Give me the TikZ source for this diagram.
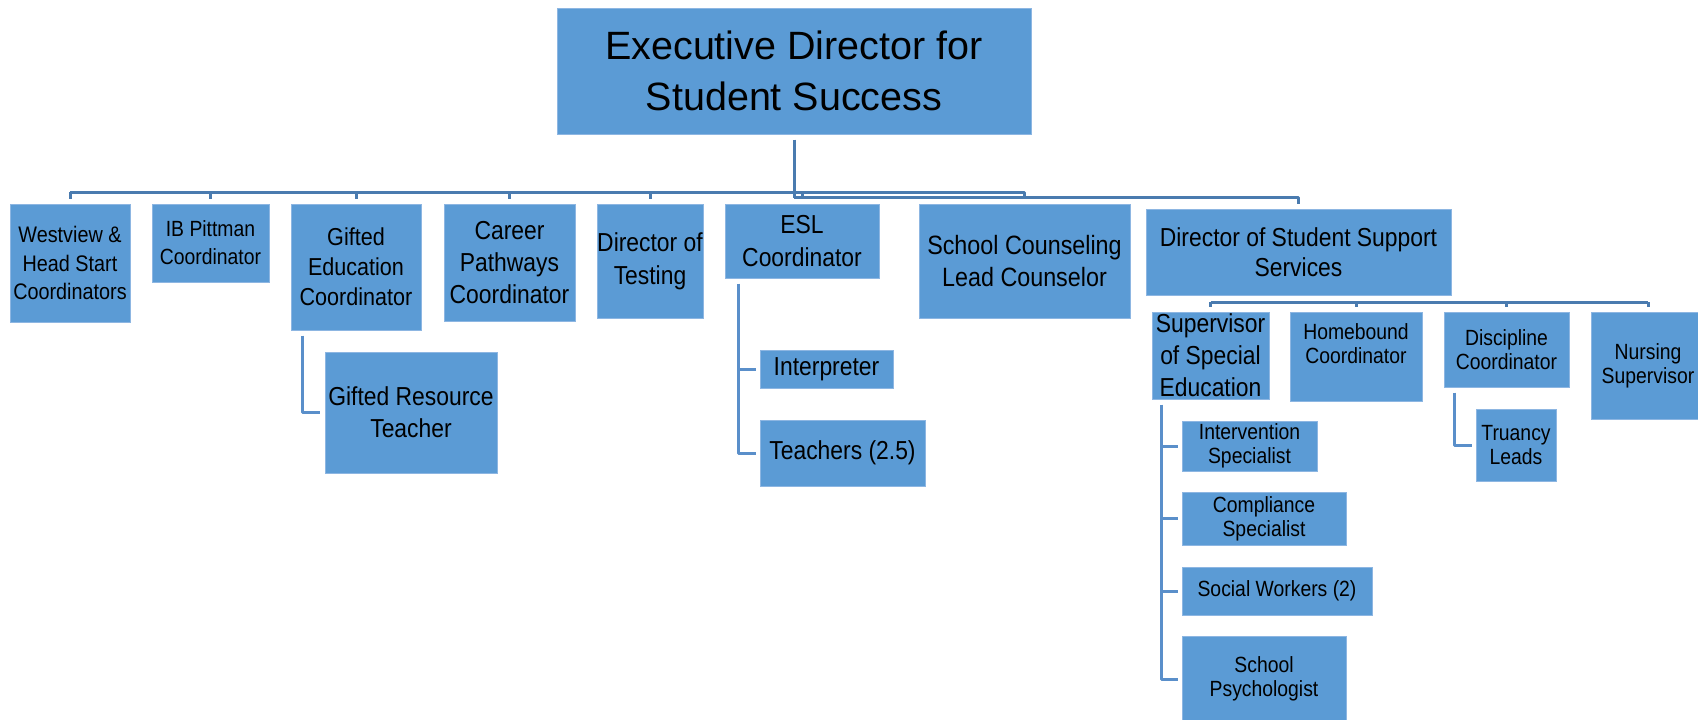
\documentclass[tikz,border=0pt]{standalone}
\usepackage{fontspec}
\setmainfont{Liberation Sans}[FakeStretch=0.88]
\newfontfamily\widefont{Liberation Sans}
\usetikzlibrary{calc}
\definecolor{boxblue}{HTML}{5B9BD5}
\definecolor{boxedge}{HTML}{8DB6E2}
\definecolor{busline}{HTML}{4A7BAF}
\definecolor{sideline}{HTML}{5A8FCA}
\newcommand{\fs}[2]{\fontsize{#1}{#2}\selectfont}
\tikzset{
  box/.style={fill=boxblue, draw=boxedge, line width=1pt, inner sep=0pt,
              align=center, text=black},
  txt/.style={inner sep=0pt, align=center, text=black},
  conn/.style={draw=busline, line width=3pt, line join=round},
  side/.style={draw=sideline, line width=3pt, line join=round},
}
\begin{document}
\begin{tikzpicture}[x=1pt,y=-1pt]
\useasboundingbox (0,0) rectangle (1698,720);
\fill[white] (0,0) rectangle (1698,720);

% top
\node[box, minimum width=474, minimum height=126, font=\widefont\fs{39.5}{51}]
  (exec) at (794,71) {Executive Director for\\Student Success};

% first level
\node[box, minimum width=120, minimum height=118, font=\fs{22.5}{28.5}]
  (wv) at (70,263) {Westview \&\\Head Start\\Coordinators};
\node[box, minimum width=117, minimum height=78, font=\fs{22}{28}]
  (ib) at (210.5,243) {IB Pittman\\Coordinator};
\node[box, minimum width=130, minimum height=126, font=\fs{24.5}{30}]
  (gifted) at (356,267) {Gifted\\Education\\Coordinator};
\node[box, minimum width=131, minimum height=117, font=\fs{26}{32}]
  (career) at (509.5,262.5) {Career\\Pathways\\Coordinator};
\node[box, minimum width=106, minimum height=114, font=\fs{26}{33}]
  (testing) at (650,261) {Director of\\Testing};
\node[box, minimum width=154, minimum height=74, font=\fs{26}{33}]
  (esl) at (802,241) {ESL\\Coordinator};
\node[box, minimum width=211, minimum height=114, font=\fs{26.5}{32}]
  (counsel) at (1024.5,261) {School Counseling\\Lead Counselor};
\node[box, minimum width=305, minimum height=86, font=\fs{26}{30}]
  (dsss) at (1298.5,252) {Director of Student Support\\Services};

% under Gifted Education
\node[box, minimum width=172, minimum height=121, font=\fs{26}{32}]
  (gres) at (411,412.5) {Gifted Resource\\Teacher};

% under ESL
\node[box, minimum width=133, minimum height=38, font=\fs{26}{32}]
  (interp) at (826.5,369) {Interpreter};
\node[box, minimum width=165, minimum height=66, font=\fs{26}{32}]
  (teach) at (842.5,453) {Teachers (2.5)};

% under Student Support Services
\node[box, minimum width=117, minimum height=87, font=\fs{26}{32}]
  (sse) at (1210.5,355.5) {Supervisor\\of Special\\Education};
\node[box, minimum width=132, minimum height=89]
  (home) at (1356,356.5) {};
\node[txt, font=\fs{22}{24}] (hometext) at (1356,344) {Homebound\\Coordinator};
\node[box, minimum width=125, minimum height=75, font=\fs{22}{23.5}]
  (disc) at (1506.5,349.5) {Discipline\\Coordinator};
\node[box, minimum width=114, minimum height=107, font=\fs{22}{24}]
  (nurse) at (1648,365.5) {Nursing\\Supervisor};
\node[box, minimum width=80, minimum height=72, font=\fs{22}{24}]
  (truancy) at (1516,445) {Truancy\\Leads};

% under Special Education
\node[box, minimum width=135, minimum height=50, font=\fs{22}{23.5}]
  (interv) at (1249.5,446) {Intervention\\Specialist};
\node[box, minimum width=164, minimum height=53, font=\fs{22}{24}]
  (compl) at (1264,518.5) {Compliance\\Specialist};
\node[box, minimum width=190, minimum height=48, font=\fs{22}{24}]
  (social) at (1277,591) {Social Workers (2)};
\node[box, minimum width=164, minimum height=86, font=\fs{22}{23.5}]
  (psych) at (1264,679) {School\\Psychologist};

% bus levels
\coordinate (b1) at (0,192);
\coordinate (b2) at (0,197.5);
\coordinate (b3) at (0,302);

% executive to first level
\draw[conn] ($(exec.south)+(0,5)$) -- (exec.south |- b2);
\draw[conn] (wv.north |- b1) -- (counsel.north |- b1) -- ($(counsel.north)+(0,-6)$);
\foreach \n in {wv,ib,gifted,career,testing,esl}
  \draw[conn] (\n.north |- b1) -- ($(\n.north)+(0,-5)$);
\draw[conn] (exec.south |- b2) -- (dsss.north |- b2) -- ($(dsss.north)+(0,-5)$);

% student support services bus
\draw[conn] (sse.north |- b3) -- (nurse.north |- b3);
\foreach \n in {sse,home,disc,nurse}
  \draw[conn] (\n.north |- b3) -- ($(\n.north)+(0,-5)$);

% side connectors
\draw[side, shorten >=5pt] ($(gifted.south west)+(12,5)$) |- (gres.west);

\coordinate (eslc) at ($(esl.south west)+(14,5)$);
\draw[side, shorten >=4pt] (eslc) |- (teach.west);
\draw[side, shorten >=4pt] (eslc |- interp.west) -- (interp.west);

\coordinate (ssec) at ($(sse.south west)+(10,5)$);
\draw[side, shorten >=4pt] (ssec) |- (psych.west);
\foreach \n in {interv,compl,social}
  \draw[side, shorten >=4pt] (ssec |- \n.west) -- (\n.west);

\draw[side, shorten >=4pt] ($(disc.south west)+(11,5)$) |- (truancy.west);
\end{tikzpicture}
\end{document}
